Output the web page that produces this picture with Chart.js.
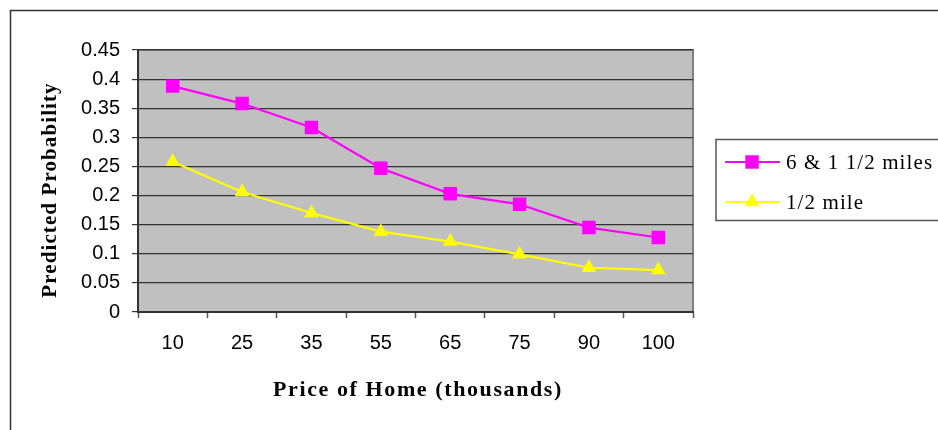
<!DOCTYPE html>
<html>
<head>
<meta charset="utf-8">
<script src="https://cdn.jsdelivr.net/npm/chart.js@4/dist/chart.umd.min.js"></script>
<style>
  html, body { margin: 0; padding: 0; background: #fff; }
  #wrap { width: 938px; height: 430px; position: relative; }
</style>
</head>
<body>
<div id="wrap"><canvas id="c" width="938" height="430"></canvas></div>
<script>
// Home price categories (thousands of dollars)
const prices = ['10', '25', '35', '55', '65', '75', '90', '100'];

// Predicted probability by distance band
const seriesFarLabel = '6 & 1 1/2 miles';
const seriesFar = [0.388, 0.358, 0.317, 0.247, 0.203, 0.185, 0.145, 0.128];

const seriesNearLabel = '1/2 mile';
const seriesNear = [0.258, 0.206, 0.170, 0.138, 0.121, 0.099, 0.076, 0.072];

// Value axis range
const yMin = 0;
const yMax = 0.45;
const yStep = 0.05;

const yTitle = 'Predicted Probability';
const xTitle = 'Price of Home (thousands)';

const SERIF = '"Liberation Serif", "DejaVu Serif", serif';
const SANS = '"Liberation Sans", Arial, sans-serif';

// Frame, plot background, axis titles and the boxed legend
const decor = {
  id: 'decor',
  beforeDraw(chart) {
    const { ctx, chartArea: a } = chart;
    ctx.save();
    ctx.fillStyle = '#ffffff';
    ctx.fillRect(0, 0, chart.width, chart.height);
    // outer frame
    ctx.strokeStyle = '#333333';
    ctx.lineWidth = 1.5;
    ctx.strokeRect(10.5, 10.5, 1000, 1000);
    // plot area
    ctx.fillStyle = '#c0c0c0';
    ctx.fillRect(a.left, a.top, a.right - a.left, a.bottom - a.top);
    ctx.strokeStyle = '#808080';
    ctx.lineWidth = 2;
    ctx.strokeRect(a.left, a.top, a.right - a.left, a.bottom - a.top);
    ctx.restore();
  },
  afterDraw(chart) {
    const { ctx } = chart;
    ctx.save();
    // axis titles
    ctx.fillStyle = '#000';
    ctx.textAlign = 'center';
    ctx.textBaseline = 'middle';
    ctx.save();
    ctx.font = 'bold 21px ' + SERIF;
    ctx.letterSpacing = '1.1px';
    ctx.translate(51, 190);
    ctx.rotate(-Math.PI / 2);
    ctx.fillText(yTitle, 0, 0);
    ctx.restore();
    ctx.save();
    ctx.font = 'bold 22px ' + SERIF;
    ctx.letterSpacing = '1.6px';
    ctx.fillText(xTitle, 418, 390);
    ctx.restore();

    // legend box
    const bx = 716, by = 139.5, bw = 260, bh = 81;
    ctx.fillStyle = '#fff';
    ctx.fillRect(bx, by, bw, bh);
    ctx.strokeStyle = '#555';
    ctx.lineWidth = 1.5;
    ctx.strokeRect(bx, by, bw, bh);
    const rows = [162, 202];
    chart.data.datasets.forEach((ds, i) => {
      const y = rows[i];
      ctx.strokeStyle = ds.borderColor;
      ctx.lineWidth = 2;
      ctx.beginPath();
      ctx.moveTo(725, y);
      ctx.lineTo(780, y);
      ctx.stroke();
      ctx.fillStyle = ds.pointBackgroundColor;
      ctx.beginPath();
      if (ds.pointStyle === 'rect') {
        const s = Math.SQRT1_2 * ds.pointRadius;
        ctx.rect(752 - s, y - s, 2 * s, 2 * s);
      } else {
        const r = ds.pointRadius;
        ctx.moveTo(752, y - r);
        ctx.lineTo(752 + r * 0.866, y + r * 0.5);
        ctx.lineTo(752 - r * 0.866, y + r * 0.5);
        ctx.closePath();
      }
      ctx.fill();
      ctx.fillStyle = '#000';
      ctx.font = '21px ' + SERIF;
      ctx.letterSpacing = '1.1px';
      ctx.textAlign = 'left';
      ctx.textBaseline = 'middle';
      ctx.fillText(ds.label, 786, y + 1);
    });
    ctx.restore();
  }
};

new Chart(document.getElementById('c'), {
  type: 'line',
  data: {
    labels: prices,
    datasets: [
      {
        label: seriesFarLabel,
        data: seriesFar,
        borderColor: '#ff00ff',
        backgroundColor: '#ff00ff',
        pointBackgroundColor: '#ff00ff',
        pointBorderColor: '#ff00ff',
        pointStyle: 'rect',
        pointRadius: 9.5,
        pointBorderWidth: 0,
        borderWidth: 2.2,
        tension: 0
      },
      {
        label: seriesNearLabel,
        data: seriesNear,
        borderColor: '#ffff00',
        backgroundColor: '#ffff00',
        pointBackgroundColor: '#ffff00',
        pointBorderColor: '#ffff00',
        pointStyle: 'triangle',
        pointRadius: 8.5,
        pointBorderWidth: 0,
        borderWidth: 2.2,
        tension: 0
      }
    ]
  },
  options: {
    responsive: false,
    animation: false,
    events: [],
    layout: { padding: { left: 0, top: 50, right: 245, bottom: 0 } },
    plugins: {
      legend: { display: false },
      tooltip: { enabled: false }
    },
    scales: {
      x: {
        type: 'category',
        offset: true,
        afterFit(s) { s.height = 118; },
        grid: {
          offset: true,
          drawOnChartArea: false,
          drawTicks: true,
          tickLength: 6,
          color: '#555',
          tickWidth: 1.5
        },
        border: { display: true, color: '#333', width: 2 },
        ticks: {
          color: '#000',
          font: { family: SANS, size: 20 },
          padding: 13,
          maxRotation: 0
        }
      },
      y: {
        min: yMin,
        max: yMax,
        afterFit(s) { s.width = 138; },
        grid: {
          color: '#333',
          lineWidth: 1.2,
          drawTicks: true,
          tickLength: 6
        },
        border: { display: true, color: '#333', width: 2 },
        ticks: {
          stepSize: yStep,
          color: '#000',
          font: { family: SANS, size: 20 },
          padding: 12,
          callback: (v) => String(Math.round(v * 100) / 100)
        }
      }
    }
  },
  plugins: [decor]
});
</script>
</body>
</html>
